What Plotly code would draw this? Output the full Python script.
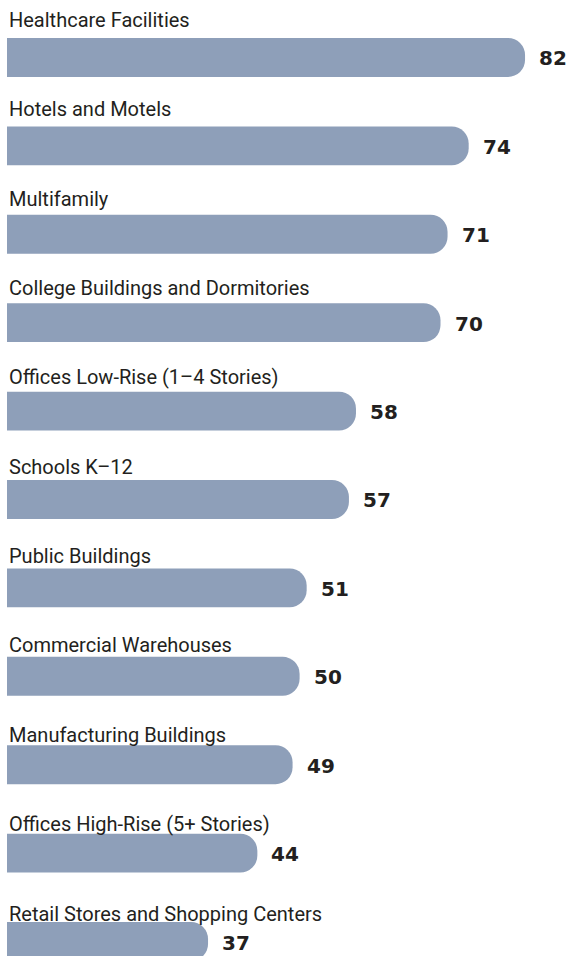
import plotly.graph_objects as go

categories = [
    "Healthcare Facilities",
    "Hotels and Motels",
    "Multifamily",
    "College Buildings and Dormitories",
    "Offices Low-Rise (1\u20134 Stories)",
    "Schools K\u201312",
    "Public Buildings",
    "Commercial Warehouses",
    "Manufacturing Buildings",
    "Offices High-Rise (5+ Stories)",
    "Retail Stores and Shopping Centers",
]
values = [82, 74, 71, 70, 58, 57, 51, 50, 49, 44, 37]

positions = list(range(len(categories)))

bar_color = "#8e9fb9"
text_color = "#231f20"

fig = go.Figure(go.Bar(
    x=values, y=positions, orientation="h",
    width=0.44, marker=dict(color=bar_color, line=dict(width=0), cornerradius=17),
    hoverinfo="skip",
))

annotations = []
for i, (cat, val) in enumerate(zip(categories, values)):
    # category label sitting above each bar
    annotations.append(dict(
        x=0, xref="paper", y=i, yref="y", text=cat, showarrow=False,
        xanchor="left", yanchor="bottom", xshift=0, yshift=23.5 - 0.95 * i,
        font=dict(family="Roboto, sans-serif", size=20, color=text_color),
    ))
    # value to the right of the bar
    annotations.append(dict(
        x=val, xref="x", y=i, yref="y", text=str(val), showarrow=False,
        xanchor="left", yanchor="middle", xshift=12, yshift=-1,
        font=dict(family="DejaVu Sans", size=20, color=text_color, weight="bold"),
    ))

fig.update_layout(
    width=569, height=956,
    margin=dict(l=7, r=0, t=0, b=0, pad=0),
    plot_bgcolor="white", paper_bgcolor="white",
    showlegend=False,
    annotations=annotations,
    xaxis=dict(range=[8.46, 88.24], visible=False, fixedrange=True),
    yaxis=dict(range=[10.164, -0.650], visible=False, fixedrange=True),
)

# drop the browser's default 8px body margin so the figure fills the window
fig.write_html("out.html", config={"displayModeBar": False},
               post_script="document.body.style.margin='0';")
